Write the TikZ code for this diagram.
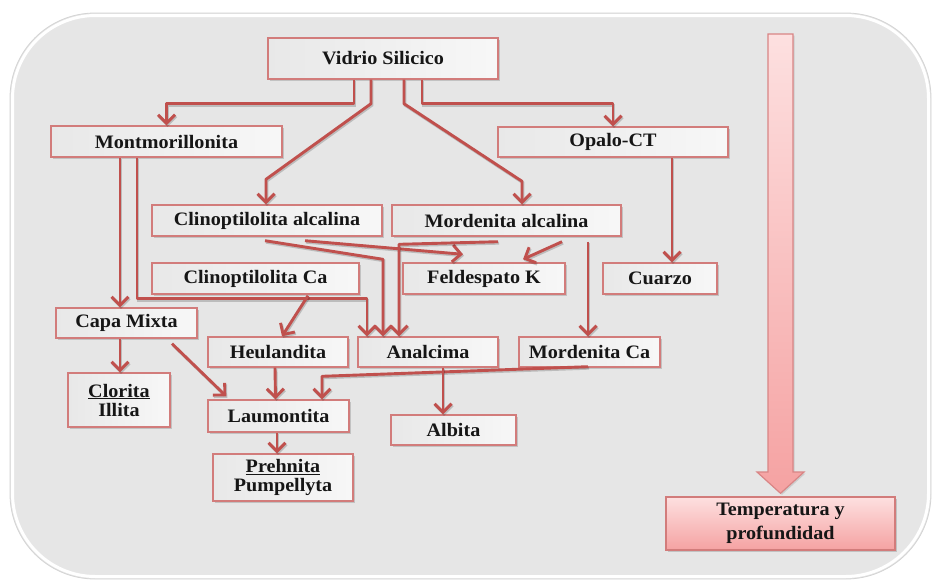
\documentclass[tikz,border=0pt]{standalone}
\usepackage{fontspec}
\setmainfont{Liberation Serif}[FakeStretch=1.06]
\usetikzlibrary{arrows.meta,calc,shadows}

\definecolor{panelgray}{HTML}{E6E6E6}
\definecolor{panelrim}{HTML}{D4D4D4}
\definecolor{connred}{HTML}{C0504D}
\definecolor{boxrim}{HTML}{D27C7B}
\definecolor{pinktop}{HTML}{FDE0E0}
\definecolor{pinkbot}{HTML}{F5A2A2}
\definecolor{arrowrim}{HTML}{D98585}
\definecolor{inktext}{HTML}{161616}

\tikzset{
  mineral/.style={
    draw=boxrim, line width=1.4pt, inner sep=0pt,
    left color=black!9, middle color=white, right color=white!97!black,
    font=\fontsize{19}{22}\selectfont\bfseries, text=inktext, align=center,
    drop shadow={shadow xshift=1.5pt, shadow yshift=-2pt, opacity=0.35}},
  conn/.style={draw=connred, line width=2.9pt, line join=round,
    -{Straight Barb[length=8.5pt,width=17pt]},
    preaction={draw=black, opacity=0.18, line width=2.9pt,
      transform canvas={xshift=1pt, yshift=-1.5pt}}},
  depthbox/.style={
    draw=boxrim, line width=1.4pt, top color=pinktop, bottom color=pinkbot,
    inner sep=0pt, font=\fontsize{19}{24}\selectfont\bfseries, text=inktext,
    align=center,
    drop shadow={shadow xshift=1.5pt, shadow yshift=-2pt, opacity=0.35}},
}

\begin{document}
\begin{tikzpicture}[x=1pt, y=-1pt]
\useasboundingbox (0,0) rectangle (934,581);

% background panel
\fill[white] (0,0) rectangle (934,581);
\draw[panelrim, line width=0.8pt, fill=panelgray, rounded corners=85pt]
  (10,13) rectangle (931,579);
\draw[white, line width=3pt, rounded corners=83pt]
  (12.5,15.5) rectangle (928.5,576.5);

% minerals
\node[mineral, minimum width=230pt, minimum height=41pt] (vs) at (383,58.5) {Vidrio Silicico};
\node[mineral, minimum width=231pt, minimum height=31pt] (mm) at (166.5,141.5) {Montmorillonita};
\node[mineral, minimum width=230pt, minimum height=30pt] (oc) at (613,142) {Opalo-CT};
\node[mineral, minimum width=230pt, minimum height=31pt] (ca) at (267,220.5) {Clinoptilolita alcalina};
\node[mineral, minimum width=229pt, minimum height=31pt] (ma) at (506.5,220.5) {Mordenita alcalina};
\node[mineral, minimum width=207pt, minimum height=31pt] (cc) at (255.5,278.5) {Clinoptilolita Ca};
\node[mineral, minimum width=162pt, minimum height=31pt] (fk) at (484,278.5) {Feldespato K};
\node[mineral, minimum width=114pt, minimum height=31pt] (cz) at (660,278.5) {Cuarzo};
\node[mineral, minimum width=141pt, minimum height=30pt] (cm) at (126.5,323) {Capa Mixta};
\node[mineral, minimum width=140pt, minimum height=30pt] (he) at (278,352) {Heulandita};
\node[mineral, minimum width=140pt, minimum height=30pt] (an) at (428,352) {Analcima};
\node[mineral, minimum width=141pt, minimum height=30pt] (mc) at (589.5,352) {Mordenita Ca};
\node[mineral, minimum width=102pt, minimum height=54pt] (ci) at (119,400)
  {\underline{Clorita}\\[-3pt]Illita};
\node[mineral, minimum width=141pt, minimum height=32pt] (la) at (278.5,416) {Laumontita};
\node[mineral, minimum width=125pt, minimum height=30pt] (al) at (453.5,430) {Albita};
\node[mineral, minimum width=140pt, minimum height=47pt] (pp) at (283,477.5)
  {\underline{Prehnita}\\[-3pt]Pumpellyta};

% temperature and depth
\node[depthbox, minimum width=229pt, minimum height=53pt] (tp) at (780.5,523.5)
  {Temperatura y\\profundidad};
\shade[top color=pinktop, bottom color=pinkbot, draw=arrowrim, line width=1.2pt,
       drop shadow={shadow xshift=1.5pt, shadow yshift=-1.5pt, opacity=0.25}]
  (768,34) -- (793,34) -- (793,472) -- (804,472)
  -- ($(tp.north)+(0,-3)$) -- (757,472) -- (768,472) -- cycle;

% connectors from the glass
\draw[conn] ([xshift=-29pt]vs.south) -- ++(0,24) -| (mm.north);
\draw[conn] ([xshift=-12pt]vs.south) -- ++(0,24)
  -- ($(ca.north)+(-1,-25)$) -- ([xshift=-1pt]ca.north);
\draw[conn] ([xshift=21pt]vs.south) -- ++(0,24)
  -- ($(ma.north)+(15.5,-23)$) -- ([xshift=15.5pt]ma.north);
\draw[conn] ([xshift=39pt]vs.south) -- ++(0,24) -| (oc.north);

% smectite branch
\draw[conn] ([xshift=-46.5pt]mm.south) coordinate (m1) -- (m1 |- cm.north);
\draw[conn] ([xshift=-29.5pt]mm.south) -- ++(0,141)
  -| ([xshift=-61pt]an.north);
\draw[conn] ([xshift=-6.5pt]cm.south) coordinate (c1) -- (c1 |- ci.north);
\draw[conn] ($(cm.south)+(45.5,5)$) -- ($(la.north west)+(19,-3)$);

% clinoptilolite branch
\draw[conn] ($(ca.south)+(-2,4)$) -- ($(an.north)+(-45,-77)$)
  -- ([xshift=-45pt]an.north);
\draw[conn] ($(ca.south)+(38,4)$) -- ($(fk.north)+(-21,-8)$);
\draw[conn] ($(cc.south)+(52.5,1)$) -- ([xshift=4pt]he.north);

% mordenite branch
\draw[conn] ($(ma.south)+(-8.5,5)$) -- ($(an.north)+(-29,-92)$)
  -- ([xshift=-29pt]an.north);
\draw[conn] ($(ma.south)+(55.5,5)$) -- ($(fk.north)+(39,-3)$);
\draw[conn] ($(ma.south)+(81.5,5)$) coordinate (m2) -- (m2 |- mc.north);
\draw[conn] ($(mc.south)+(-1.5,-1)$) -- ($(la.north)+(43.5,-23)$)
  -- ([xshift=43.5pt]la.north);

% opal branch
\draw[conn] ([xshift=59pt]oc.south) coordinate (o1) -- (o1 |- cz.north);

% deeper transformations
\draw[conn] ([xshift=-3pt]he.south) -- ([xshift=-3pt]la.north);
\draw[conn] ([xshift=15pt]an.south) coordinate (a1) -- (a1 |- al.north);
\draw[conn] ([xshift=-1.5pt]la.south) coordinate (l1) -- (l1 |- pp.north);
\end{tikzpicture}
\end{document}
